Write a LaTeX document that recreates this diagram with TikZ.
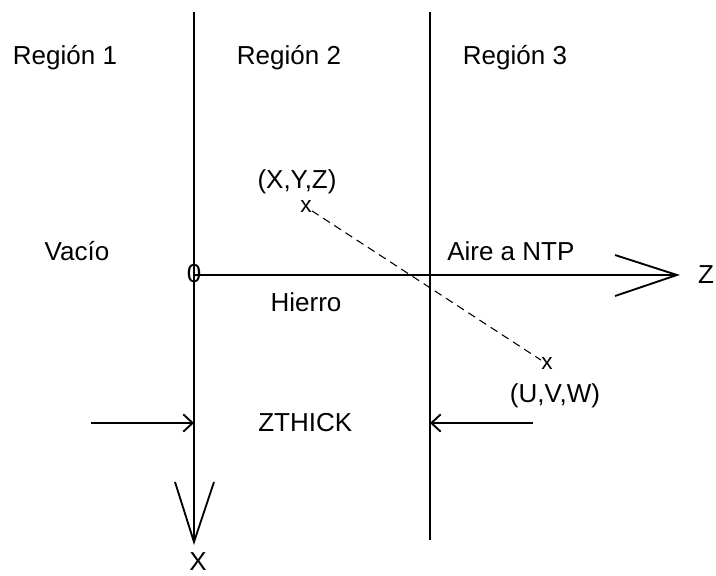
\documentclass[tikz,border=0pt]{standalone}
\usepackage{fontspec}
\setmainfont{Liberation Sans}
\usetikzlibrary{arrows.meta}
\begin{document}
\begin{tikzpicture}[x=0.75pt,y=-0.75pt,
  axis/.style={line width=1.4pt},
  txt/.style={font=\fontsize{19.5}{23}\selectfont, inner sep=0pt},
  ptmark/.style={font=\fontsize{17}{20}\selectfont, inner sep=0pt},
  dimarrow/.style={line width=1.4pt,-{Straight Barb[length=7pt,width=13pt,line width=1.4pt]}}]
\useasboundingbox (0,0) rectangle (716,575);
% coordinates
\coordinate (ltop) at (194,12);
\coordinate (xtip) at (194,542);
\coordinate (rtop) at (430,12);
\coordinate (rbot) at (430,540);
\coordinate (o) at (194,275);
\coordinate (ztip) at (677,275);
\coordinate (za1) at (615,255);
\coordinate (za2) at (615,296);
\coordinate (xa1) at (175,482);
\coordinate (xa2) at (214,482);
\coordinate (dl) at (91,423);
\coordinate (dlt) at (194,423);
\coordinate (dr) at (533,423);
\coordinate (drt) at (430,423);
% lines
\draw[axis] (ltop) -- (xtip);
\draw[axis] (rtop) -- (rbot);
\draw[axis] (o) -- (ztip);
\draw[axis, line join=miter] (za1) -- (ztip) -- (za2);
\draw[axis, line join=miter] (xa1) -- (xtip) -- (xa2);
\draw[dimarrow] (dl) -- (dlt);
\draw[dimarrow] (dr) -- (drt);
% labels
\node[txt, anchor=base] (r1) at (65,64) {Región 1};
\node[txt, anchor=base] (r2) at (289,64) {Región 2};
\node[txt, anchor=base] (r3) at (515,64) {Región 3};
\node[txt, anchor=base] (vac) at (77,260) {Vacío};
\node[txt, anchor=base west] (aire) at (447,260) {Aire a NTP};
\node[txt, anchor=base] (hier) at (306,311) {Hierro};
\node[txt, anchor=base west] (zt) at (258,431) {ZTHICK};
\node[txt] (zero) at (194,274) {0};
\node[txt] (zl) at (706,275) {Z};
\node[txt] (xl) at (198,562) {X};
\node[txt, anchor=base] (p1l) at (297,188) {(X,Y,Z)};
\node[txt, anchor=base] (p2l) at (555,402) {(U,V,W)};
\node[ptmark] (p1) at (306,207) {x};
\node[ptmark] (p2) at (547,364) {x};
\draw[line width=0.8pt, dash pattern=on 6pt off 4pt] (p1) -- (p2);
\end{tikzpicture}
\end{document}
